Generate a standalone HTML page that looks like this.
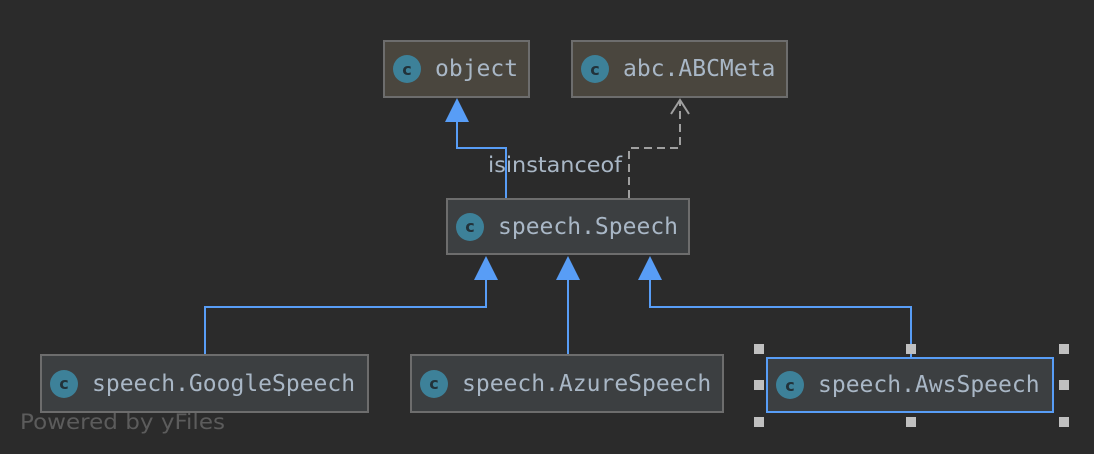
<!DOCTYPE html><html><head><style>
body{margin:0;background:#2b2b2b;width:1094px;height:454px;overflow:hidden;position:relative;font-family:"DejaVu Sans Mono","Liberation Mono",monospace}
.b{position:absolute;box-sizing:border-box;border:2px solid #6d6d6d;background:#3c3f41;color:#a9b7c6;font-size:23px;display:flex;align-items:center}
.t{background:#4a463e}
.c{width:28px;height:28px;border-radius:50%;background:#3d8199;color:#22323a;font:bold 16px "DejaVu Sans",sans-serif;display:flex;align-items:center;justify-content:center;margin:0 14px 0 8px;flex:none}
.h{position:absolute;width:10px;height:10px;background:#c0c0c0}
</style></head><body>
<svg width="1094" height="454" style="position:absolute;left:0;top:0">
<g stroke="#589df6" stroke-width="2" fill="none">
<polyline points="506,198 506,148 457,148 457,120"/>
<polyline points="486,278 486,307 205,307 205,354"/>
<line x1="568" y1="278" x2="568" y2="354"/>
<polyline points="650,278 650,307 911,307 911,357"/>
</g>
<g fill="#589df6">
<polygon points="457,98 445,122 469,122"/>
<polygon points="486,256 474,280 498,280"/>
<polygon points="568,256 556,280 580,280"/>
<polygon points="650,256 638,280 662,280"/>
</g>
<polyline points="629,198 629,148 680,148 680,100" stroke="#a0a0a0" stroke-width="2" fill="none" stroke-dasharray="8,5"/>
<polyline points="671,114 680,100 689,114" stroke="#a0a0a0" stroke-width="2" fill="none"/>
<text x="488" y="172" font-family="DejaVu Sans,sans-serif" font-size="21" fill="#a9b7c6" textLength="134" lengthAdjust="spacingAndGlyphs">isinstanceof</text>
<text x="20" y="429" font-family="DejaVu Sans,sans-serif" font-size="21" fill="#5c5c5c" textLength="205" lengthAdjust="spacingAndGlyphs">Powered by yFiles</text>
</svg>
<div class="b t" style="left:383px;top:40px;width:147px;height:58px"><span class="c">c</span>object</div>
<div class="b t" style="left:571px;top:40px;width:217px;height:58px"><span class="c">c</span>abc.ABCMeta</div>
<div class="b" style="left:446px;top:198px;width:244px;height:57px"><span class="c">c</span>speech.Speech</div>
<div class="b" style="left:40px;top:354px;width:329px;height:59px"><span class="c">c</span>speech.GoogleSpeech</div>
<div class="b" style="left:410px;top:354px;width:314px;height:59px"><span class="c">c</span>speech.AzureSpeech</div>
<div class="b" style="left:766px;top:357px;width:288px;height:56px;border-color:#589df6"><span class="c">c</span>speech.AwsSpeech</div>
<div class="h" style="left:754px;top:344px"></div><div class="h" style="left:906px;top:344px"></div><div class="h" style="left:1059px;top:344px"></div>
<div class="h" style="left:754px;top:380px"></div><div class="h" style="left:1059px;top:380px"></div>
<div class="h" style="left:754px;top:417px"></div><div class="h" style="left:906px;top:417px"></div><div class="h" style="left:1059px;top:417px"></div>
</body></html>
